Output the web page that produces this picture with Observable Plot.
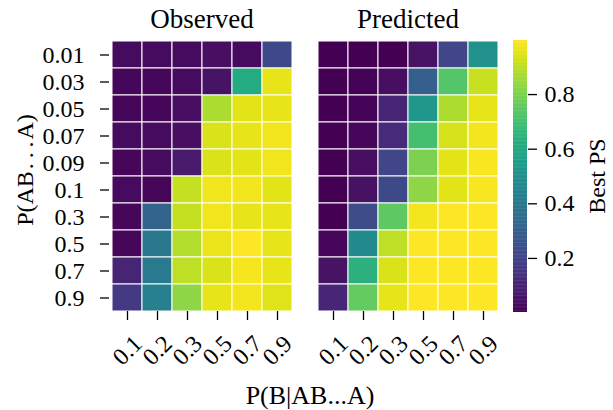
<!DOCTYPE html>
<html>
<head>
<meta charset="utf-8">
<script src="https://cdn.jsdelivr.net/npm/d3@7"></script>
<script src="https://cdn.jsdelivr.net/npm/@observablehq/plot@0.6"></script>
<style>
  html, body { margin: 0; padding: 0; background: white; }
  #wrap { position: relative; width: 613px; height: 410px; font-family: "Liberation Serif", serif; color: black; }
  #wrap svg { position: absolute; top: 0; }
  .lbl { position: absolute; white-space: nowrap; line-height: 1; }
</style>
</head>
<body>
<div id="wrap"></div>
<script>
// Column categories: P(B|AB...A)
const pB = ["0.1", "0.2", "0.3", "0.5", "0.7", "0.9"];
// Row categories: P(AB...A)
const pAB = ["0.01", "0.03", "0.05", "0.07", "0.09", "0.1", "0.3", "0.5", "0.7", "0.9"];
const panels = ["Observed", "Predicted"];

// Best PS, rows follow pAB, columns follow pB
const observed = [
  [0.03, 0.03, 0.03, 0.04, 0.03, 0.22],
  [0.02, 0.02, 0.03, 0.05, 0.61, 0.96],
  [0.02, 0.015, 0.04, 0.875, 0.955, 0.96],
  [0.03, 0.03, 0.04, 0.94, 0.96, 0.975],
  [0.02, 0.03, 0.07, 0.94, 0.955, 0.975],
  [0.03, 0.015, 0.91, 0.975, 0.98, 0.955],
  [0.02, 0.32, 0.91, 0.975, 0.96, 0.96],
  [0.02, 0.40, 0.885, 0.97, 0.998, 0.96],
  [0.10, 0.41, 0.90, 0.94, 0.985, 0.96],
  [0.17, 0.43, 0.83, 0.96, 0.98, 0.95]
];
const predicted = [
  [0.004, 0.004, 0.002, 0.05, 0.21, 0.50],
  [0.004, 0.008, 0.04, 0.30, 0.73, 0.915],
  [0.004, 0.01, 0.10, 0.53, 0.875, 0.96],
  [0.004, 0.02, 0.12, 0.70, 0.935, 0.98],
  [0.004, 0.04, 0.21, 0.80, 0.955, 0.99],
  [0.004, 0.045, 0.22, 0.83, 0.955, 0.99],
  [0.005, 0.23, 0.75, 0.98, 0.997, 0.997],
  [0.02, 0.48, 0.90, 0.997, 0.997, 0.997],
  [0.05, 0.64, 0.94, 0.997, 0.997, 0.997],
  [0.11, 0.76, 0.96, 0.997, 0.997, 0.997]
];
const colorTicks = [0.2, 0.4, 0.6, 0.8];

// Build tidy table
const rows = [];
[observed, predicted].forEach((m, k) => {
  m.forEach((r, i) => r.forEach((v, j) => rows.push({panel: panels[k], ab: pAB[i], b: pB[j], v})));
});
const colorDomain = d3.extent(rows, d => d.v);

const font = "Liberation Serif";

const main = Plot.plot({
  width: 613, height: 410,
  marginLeft: 108, marginRight: 112, marginTop: 40, marginBottom: 99,
  style: {fontFamily: font, fontSize: "24px", background: "transparent", color: "black"},
  fx: {domain: panels, paddingInner: 0.1, paddingOuter: 0, label: null},
  x: {domain: pB, padding: 0, label: null},
  y: {domain: pAB, padding: 0, label: null},
  color: {type: "linear", scheme: "viridis", domain: colorDomain},
  marks: [
    Plot.cell(rows, {fx: "panel", x: "b", y: "ab", fill: "v", stroke: "white", strokeWidth: 1, inset: 0}),
    Plot.axisFx({anchor: "top", tickSize: 0, tickPadding: 13, fontSize: 27, label: null}),
    Plot.axisY({tickSize: 9, tickPadding: 16, fontSize: 24, label: null, strokeWidth: 1.3}),
    Plot.axisX({tickSize: 9, tickPadding: 30, tickRotate: -45, textAnchor: "middle", lineAnchor: "middle", fontSize: 24, label: null, strokeWidth: 1.3})
  ]
});
main.style.left = "0px";

// Colorbar
const N = 200;
const stops = d3.range(N).map(i => [
  colorDomain[0] + (colorDomain[1] - colorDomain[0]) * i / N,
  colorDomain[0] + (colorDomain[1] - colorDomain[0]) * (i + 1.3) / N
]);
const cbar = Plot.plot({
  width: 108, height: 410,
  marginLeft: 8, marginRight: 86, marginTop: 40, marginBottom: 98,
  style: {fontFamily: font, fontSize: "24px", background: "transparent", color: "black"},
  x: {domain: [0, 1], axis: null},
  y: {domain: colorDomain, label: null},
  color: {type: "linear", scheme: "viridis", domain: colorDomain},
  marks: [
    Plot.rect(stops, {x1: 0, x2: 1, y1: d => d[0], y2: d => Math.min(d[1], colorDomain[1]), fill: d => (d[0] + d[1]) / 2, inset: 0}),
    Plot.axisY({anchor: "right", ticks: colorTicks, tickFormat: d3.format(".1f"), tickSize: 9, tickPadding: 8, fontSize: 24, label: null, strokeWidth: 1.3})
  ]
});
cbar.style.left = "505px";

const wrap = document.getElementById("wrap");
wrap.appendChild(main);
wrap.appendChild(cbar);

function label(text, x, y, size, rot) {
  const d = document.createElement("div");
  d.className = "lbl";
  d.textContent = text;
  d.style.left = x + "px";
  d.style.top = y + "px";
  d.style.fontSize = size + "px";
  d.style.transform = "translate(-50%, -50%)" + (rot ? ` rotate(${rot}deg)` : "");
  wrap.appendChild(d);
}
label("P(B|AB...A)", 310, 396, 26, 0);
label("P(AB\u200A.\u2009.\u2009.\u200AA)", 25, 170, 24, -90);
label("Best PS", 597, 176, 24, -90);
</script>
</body>
</html>
